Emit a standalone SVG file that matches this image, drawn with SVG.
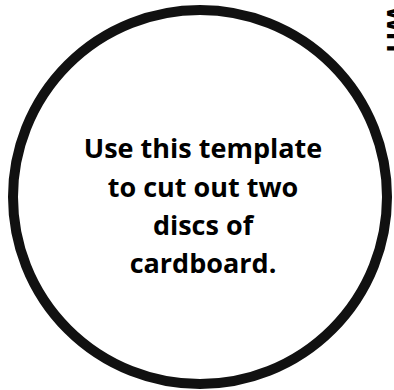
<svg xmlns="http://www.w3.org/2000/svg" width="394" height="390" viewBox="0 0 394 390">
<style>
.lbl{font-family:"Open Sans","Noto Sans","Liberation Sans",sans-serif;font-weight:700;font-size:27px;fill:#000;text-anchor:middle}
.side{font-family:"Open Sans","Noto Sans","Liberation Sans",sans-serif;font-weight:700;font-size:27px;fill:#000}
</style>
<rect width="394" height="390" fill="#fff"/>
<g id="disc">
<circle cx="200" cy="197" r="187" fill="#fff" stroke="#111" stroke-width="10"/>
<text class="lbl" x="203" y="158">Use this template</text>
<text class="lbl" x="203" y="197">to cut out two</text>
<text class="lbl" x="203" y="235">discs of</text>
<text class="lbl" x="203" y="273">cardboard.</text>
</g>
<g id="side-label">
<text class="side" transform="translate(387,6) rotate(90)">Wri</text>
</g>
</svg>
